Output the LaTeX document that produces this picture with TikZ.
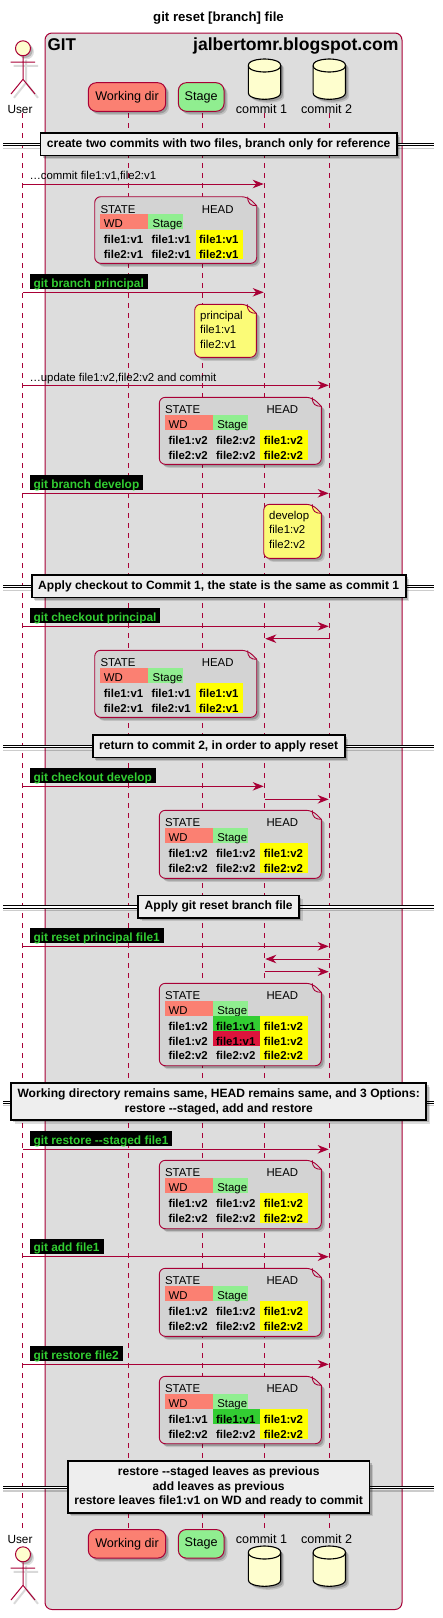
\documentclass[tikz,border=0pt]{standalone}
\usepackage{fontspec}
\setmainfont{Liberation Sans}
\usetikzlibrary{positioning, arrows.meta, shadows}

\definecolor{umlred}{HTML}{A80036}
\definecolor{boxgray}{HTML}{DDDDDD}
\definecolor{sepgray}{HTML}{EEEEEE}
\definecolor{notegray}{HTML}{D3D3D3}
\definecolor{noteyellow}{HTML}{FBFB77}
\definecolor{dbyellow}{HTML}{FEFECE}
\definecolor{wdsalmon}{HTML}{FB8072}
\definecolor{stagegreen}{HTML}{90EE90}
\definecolor{addgreen}{HTML}{32CD32}
\definecolor{delred}{HTML}{DC143C}
\definecolor{headyellow}{HTML}{FFFF00}

\tikzset{
    softshadow/.style={drop shadow={shadow xshift=3.5pt, shadow yshift=-3.5pt, fill=black, opacity=.13},
        drop shadow={shadow xshift=2.2pt, shadow yshift=-2.2pt, fill=black, opacity=.2}},
    lifeline/.style={draw=umlred, line width=.8pt, dash pattern=on 5pt off 5pt},
    msgline/.style={draw=umlred, line width=.9pt, -{Stealth[length=11pt, width=8.5pt, inset=3.5pt]}, shorten >=.8pt},
    msgtext/.style={inner sep=0, text depth=0pt, font=\fontsize{11.4}{14}\selectfont},
    gittag/.style={fill=black, text=addgreen, inner xsep=4pt, inner ysep=0, text height=13.4pt, text depth=1.6pt,
        font=\fontsize{11.9}{14}\selectfont\bfseries},
    partbox/.style={draw=umlred, line width=1pt, rounded corners=8pt, minimum height=28.6pt, inner sep=0,
        softshadow, font=\fontsize{12.6}{14}\selectfont},
    partname/.style={inner sep=0, anchor=base, font=\fontsize{12.6}{14}\selectfont},
    sepbox/.style={draw=black, line width=1.7pt, fill=sepgray, inner xsep=6.5pt, inner ysep=5.5pt, minimum height=22pt,
        align=center, softshadow, font=\fontsize{12.05}{14.67}\selectfont\bfseries},
    sepline/.style={draw=black, line width=.9pt, double=white, double distance=1.3pt},
    sepshade/.style={draw=black, opacity=.2, line width=1.2pt},
    noteline/.style={draw=umlred, line width=.9pt},
    cell/.style={anchor=north west, inner sep=0, text width=#1, align=left, text height=14.2pt, text depth=.47pt,
        font=\fontsize{11.4}{14}\selectfont\bfseries},
    headcell/.style={anchor=north west, inner sep=0, text width=#1, align=left, text height=13.7pt, text depth=1.3pt,
        font=\fontsize{11.4}{14}\selectfont},
    plaintext/.style={anchor=base west, inner sep=0, font=\fontsize{11.4}{14}\selectfont},
    actorhead/.style={circle, draw=umlred, line width=1pt, fill=dbyellow, minimum size=15pt, inner sep=0, softshadow},
    actorfig/.pic={
        \draw[black, opacity=.15, line width=2pt, shift={(3,3.5)}] (-12.3,14) -- (12,14) (0,8) -- (0,31) -- (-12,46) (0,31) -- (12,46);
        \node (head) [actorhead] at (0,0) {};
        \coordinate (armL) at (-12.3,13.7);
        \coordinate (armR) at (12,13.7);
        \coordinate (hip) at (0,31);
        \coordinate (footL) at (-12,45.7);
        \coordinate (footR) at (12,45.7);
        \draw[draw=umlred, line width=1pt] (head) -- (hip) (armL) -- (armR) (footL) -- (hip) -- (footR);
    },
    dbfig/.pic={
        \draw[draw=black, line width=1.1pt, fill=dbyellow, softshadow] (0,6.5) .. controls (0,0) and (16.2,0) .. (16.2,0)
            .. controls (16.2,0) and (32.4,0) .. (32.4,6.5) -- (32.4,33.8)
            .. controls (32.4,40.3) and (16.2,40.3) .. (16.2,40.3)
            .. controls (16.2,40.3) and (0,40.3) .. (0,33.8) -- cycle;
        \draw[draw=black, line width=1.1pt] (0,6.5) .. controls (0,13) and (16.2,13) .. (16.2,13)
            .. controls (16.2,13) and (32.4,13) .. (32.4,6.5);
    }
}

\newcommand{\notebody}[3]{
    \draw[noteline, softshadow, fill=#3, rounded corners=6pt] (0,0) -- ({#1-9},0) [sharp corners] -- (#1,9)
        [rounded corners=6pt] -- (#1,#2) -- (0,#2) -- cycle;
    \draw[noteline] ({#1-9},0) .. controls ({#1-9},7) and ({#1-6},9) .. (#1,9);
}

\newcommand{\statenote}[5]{
    \begin{scope}[shift={(#2,#3)}]
        \notebody{162}{#4}{notegray}
        \node (#1state) [plaintext] at (5.6,16.6) {STATE};
        \node (#1head) [plaintext] at (107,16.6) {HEAD};
        \node (#1wd) [headcell=48pt, fill=wdsalmon] at (5.3,17.3) {\hspace*{3.7pt}WD};
        \node (#1stage) [headcell=35pt, fill=stagegreen] at (53.3,17.3) {\hspace*{4.5pt}Stage};
        \foreach \wdfile/\stfile/\hdfile/\stfill [count=\r] in {#5} {
            \node (#1a\r) [cell=47.7pt] at (5.3,{18+14.67*\r}) {\hspace*{3.7pt}\wdfile};
            \node (#1b\r) [cell=47.7pt, fill=\stfill] at (53,{18+14.67*\r}) {\hspace*{3.6pt}\stfile};
            \node (#1c\r) [cell=47.7pt, fill=headyellow] at (100.6,{18+14.67*\r}) {\hspace*{3.7pt}\hdfile};
        }
    \end{scope}
}

\newcommand{\sepbar}[3]{
    \coordinate (#1l) at (3.3,{#2+.5});
    \coordinate (#1r) at (434,{#2+.5});
    \draw[sepshade] ([yshift=-3.5pt]#1l) -- ([yshift=-3.5pt]#1r);
    \draw[sepline] (#1l) -- (#1r);
    \node (#1) [sepbox] at (218.7,#2) {#3};
}

\begin{document}
\begin{tikzpicture}[x=1pt, y=-1pt]
        \useasboundingbox (0,0) rectangle (443,1618);

        \node (title) at (218.5,18) [inner sep=0, font=\fontsize{13.2}{15}\selectfont\bfseries] {git reset [branch] file};

        \node (gitbox) [draw=umlred, line width=1pt, fill=boxgray, rounded corners=7pt, anchor=north west, inner sep=0,
            minimum width=357pt, minimum height=1576.5pt] at (44.5,32.5) {};
        \node (gitname) [inner sep=0, anchor=base west, font=\fontsize{17}{20}\selectfont\bfseries] at (47.5,50.5) {GIT};
        \node (blogname) [inner sep=0, anchor=base east, font=\fontsize{17.6}{20}\selectfont\bfseries] at (398.7,50.5) {jalbertomr.blogspot.com};

        \foreach \who/\x in {user/22.5, wd/128.5, stage/202.3, one/264.5, two/329.5} {
            \coordinate (\who top) at (\x,113);
            \coordinate (\who bot) at (\x,1530);
            \draw[lifeline] (\who top) -- (\who bot);
        }

        \pic (actortop) at (23,48.3) {actorfig};
        \pic (actorbot) at (23,1554.3) {actorfig};
        \node (usertopname) [partname, font=\fontsize{11.8}{14}\selectfont] at (20,113.3) {User};
        \node (userbotname) [partname, font=\fontsize{11.8}{14}\selectfont] at (20,1543.3) {User};

        \node (wdtopbox) [partbox, fill=wdsalmon, minimum width=77.4pt] at (127,97) {Working dir};
        \node (wdbotbox) [partbox, fill=wdsalmon, minimum width=77.4pt] at (127,1543.8) {Working dir};
        \node (stagetopbox) [partbox, fill=stagegreen, minimum width=45.7pt] at (201.2,97) {Stage};
        \node (stagebotbox) [partbox, fill=stagegreen, minimum width=45.7pt] at (201.2,1543.8) {Stage};

        \pic (onetopdb) at (248.3,59) {dbfig};
        \pic (twotopdb) at (313.1,59) {dbfig};
        \pic (onebotdb) at (248.3,1546) {dbfig};
        \pic (twobotdb) at (313.1,1546) {dbfig};
        \node (onetopname) [partname] at (261.5,113.3) {commit 1};
        \node (twotopname) [partname] at (326.7,113.3) {commit 2};
        \node (onebotname) [partname] at (261.5,1543.3) {commit 1};
        \node (twobotname) [partname] at (326.7,1543.3) {commit 2};

        \foreach \m/\y in {m1/184, m2/292.3, m3/385.3, m4/493.3, m5/626.3, m6/638.7, m7/786.3, m8/799.3,
                m9/946.3, m10/959, m11/971.7, m12/1149.3, m13/1256.7, m14/1364.3} {
            \coordinate (\m u) at (usertop |- 0,\y);
            \coordinate (\m a) at (onetop |- 0,\y);
            \coordinate (\m b) at (twotop |- 0,\y);
        }

        \path
            (m1u) edge[msgline] (m1a)
            (m2u) edge[msgline] (m2a)
            (m3u) edge[msgline] (m3b)
            (m4u) edge[msgline] (m4b)
            (m5u) edge[msgline] (m5b)
            (m6b) edge[msgline] (m6a)
            (m7u) edge[msgline] (m7a)
            (m8a) edge[msgline] (m8b)
            (m9u) edge[msgline] (m9b)
            (m10b) edge[msgline] (m10a)
            (m11a) edge[msgline] (m11b)
            (m12u) edge[msgline] (m12b)
            (m13u) edge[msgline] (m13b)
            (m14u) edge[msgline] (m14b);

        \node (m1text) [msgtext, above right=4pt and 6.8pt of m1u] {…commit file1:v1,file2:v1};
        \node (m3text) [msgtext, above right=4pt and 6.8pt of m3u] {…update file1:v2,file2:v2 and commit};
        \node (m2tag) [gittag, above right=3pt and 6.8pt of m2u] {git branch principal};
        \node (m4tag) [gittag, above right=3pt and 6.8pt of m4u] {git branch develop};
        \node (m5tag) [gittag, above right=3pt and 6.8pt of m5u] {git checkout principal};
        \node (m7tag) [gittag, above right=3pt and 6.8pt of m7u] {git checkout develop};
        \node (m9tag) [gittag, above right=3pt and 6.8pt of m9u] {git reset principal file1};
        \node (m12tag) [gittag, above right=3pt and 6.8pt of m12u] {git restore -{}-staged file1};
        \node (m13tag) [gittag, above right=3pt and 6.8pt of m13u] {git add file1};
        \node (m14tag) [gittag, above right=3pt and 6.8pt of m14u] {git restore file2};

        \statenote{noteA}{94.7}{196.7}{66.6}{file1:v1/file1:v1/file1:v1/none, file2:v1/file2:v1/file2:v1/none}
        \statenote{noteB}{159.3}{397.3}{67}{file1:v2/file2:v2/file1:v2/none, file2:v2/file2:v2/file2:v2/none}
        \statenote{noteC}{94.7}{650.3}{67}{file1:v1/file1:v1/file1:v1/none, file2:v1/file2:v1/file2:v1/none}
        \statenote{noteD}{159.3}{810.3}{68}{file1:v2/file1:v2/file1:v2/none, file2:v2/file2:v2/file2:v2/none}
        \statenote{noteE}{159.3}{983.3}{82.4}{file1:v2/file1:v1/file1:v2/addgreen, file1:v2/file1:v1/file1:v2/delred, file2:v2/file2:v2/file2:v2/none}
        \statenote{noteF}{159.3}{1160.3}{68.4}{file1:v2/file1:v2/file1:v2/none, file2:v2/file2:v2/file2:v2/none}
        \statenote{noteG}{159.3}{1268.3}{68}{file1:v2/file1:v2/file1:v2/none, file2:v2/file2:v2/file2:v2/none}
        \statenote{noteH}{159.3}{1376.3}{67.4}{file1:v1/file1:v1/file1:v2/addgreen, file2:v2/file2:v2/file2:v2/none}

        \begin{scope}[shift={(194.7,304.3)}]
            \notebody{61.6}{53}{noteyellow}
            \node (principalnote) [inner sep=0, anchor=north west, align=left, font=\fontsize{11.4}{14.5}\selectfont] at (5.3,6.5) {principal\\file1:v1\\file2:v1};
        \end{scope}
        \begin{scope}[shift={(263.7,504.3)}]
            \notebody{57.6}{54}{noteyellow}
            \node (developnote) [inner sep=0, anchor=north west, align=left, font=\fontsize{11.4}{14.5}\selectfont] at (5.3,6.5) {develop\\file1:v2\\file2:v2};
        \end{scope}

        \sepbar{sepA}{144.3}{create two commits with two files, branch only for reference}
        \sepbar{sepB}{586.3}{Apply checkout to Commit 1, the state is the same as commit 1}
        \sepbar{sepC}{746.3}{return to commit 2, in order to apply reset}
        \sepbar{sepD}{906.5}{Apply git reset branch file}
        \sepbar{sepE}{1101.7}{Working directory remains same, HEAD remains same, and 3 Options:\\restore -{}-staged, add and restore}
        \sepbar{sepF}{1487}{restore -{}-staged leaves as previous\\add leaves as previous\\restore leaves file1:v1 on WD and ready to commit}
\end{tikzpicture}
\end{document}
